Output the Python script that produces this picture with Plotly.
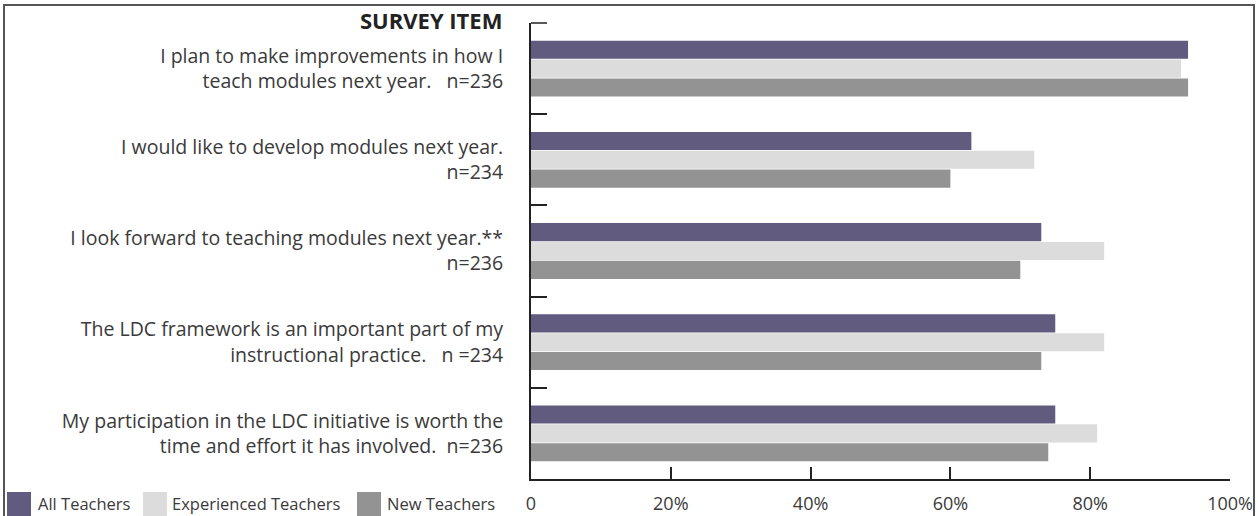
import plotly.graph_objects as go

categories = [
    "I plan to make improvements in how I<br>teach modules next year.   n=236",
    "I would like to develop modules next year.<br>n=234",
    "I look forward to teaching modules next year.**<br>n=236",
    "The LDC framework is an important part of my<br>instructional practice.   n =234",
    "My participation in the LDC initiative is worth the<br>time and effort it has involved.  n=236",
]
all_teachers = [94, 63, 73, 75, 75]
experienced_teachers = [93, 72, 82, 82, 81]
new_teachers = [94, 60, 70, 73, 74]
series_names = ["All Teachers", "Experienced Teachers", "New Teachers"]
series_colors = ["#615b80", "#dcdcdc", "#939393"]
x_tickvals = [0, 20, 40, 60, 80, 100]
x_ticktext = ["0", "20%", "40%", "60%", "80%", "100%"]

FONT = "Open Sans"
TXT = "#3a3a3a"

fig = go.Figure()
for name, vals, col in zip(series_names, [all_teachers, experienced_teachers, new_teachers], series_colors):
    fig.add_trace(go.Bar(
        y=categories, x=vals, name=name, orientation="h",
        marker=dict(color=col, line=dict(width=0)), showlegend=False,
    ))

W, H = 1258, 516
ml, mr, mt, mb = 531, 28, 23, 37
pw = W - ml - mr
ph = H - mt - mb

def px_x(p):
    return (p - ml) / pw

def px_y(p):
    return (H - mb - p) / ph

# custom legend (large square swatches like the reference)
legend_swatch_x = [7, 143, 357]
legend_text_x = [36, 170, 385]
shapes = [
    dict(
        type="rect", xref="paper", yref="paper",
        x0=px_x(4), x1=px_x(1254), y0=px_y(530), y1=px_y(5),
        line=dict(color="#555555", width=2), fillcolor="rgba(0,0,0,0)", layer="above",
    ),
    # top boundary tick of the category axis
    dict(
        type="line", xref="paper", yref="paper",
        x0=0, x1=px_x(547), y0=1, y1=1,
        line=dict(color="#222222", width=1.5), layer="above",
    ),
]
annotations = [dict(
    text="<b>SURVEY ITEM</b>", xref="paper", yref="paper",
    x=px_x(504), y=px_y(20), xanchor="right", yanchor="middle",
    showarrow=False, font=dict(family=FONT, size=22, color="#222222"),
)]
for name, col, sx, tx in zip(series_names, series_colors, legend_swatch_x, legend_text_x):
    shapes.append(dict(
        type="rect", xref="paper", yref="paper",
        x0=px_x(sx), x1=px_x(sx + 24), y0=px_y(525), y1=px_y(492),
        line=dict(width=0), fillcolor=col, layer="above",
    ))
    annotations.append(dict(
        text=name, xref="paper", yref="paper",
        x=px_x(tx), y=px_y(503), xanchor="left", yanchor="middle",
        showarrow=False, font=dict(family=FONT, size=16.5, color=TXT),
    ))

fig.update_layout(
    width=W, height=H,
    margin=dict(l=ml, r=mr, t=mt, b=mb, autoexpand=False),
    paper_bgcolor="white", plot_bgcolor="white",
    barmode="group", bargap=0.38, bargroupgap=0.04,
    font=dict(family=FONT, size=16, color=TXT),
    showlegend=False,
    annotations=annotations,
    shapes=shapes,
)

fig.update_xaxes(
    range=[0, 100], tickvals=x_tickvals, ticktext=x_ticktext,
    showgrid=False, zeroline=False, automargin=False,
    showline=True, linecolor="#222222", linewidth=2,
    ticks="inside", ticklen=12, tickwidth=1.5, tickcolor="#222222",
    ticklabelstandoff=7,
    tickfont=dict(family=FONT, size=18, color=TXT),
)
fig.update_yaxes(
    autorange="reversed", showgrid=False, zeroline=False, automargin=False,
    showline=True, linecolor="#222222", linewidth=2,
    ticks="inside", tickson="boundaries", ticklen=16, tickwidth=1.5, tickcolor="#222222",
    ticklabelstandoff=22,
    tickfont=dict(family=FONT, size=19.5, color=TXT),
)

fig.write_html(
    "out.html",
    config={"displayModeBar": False},
    post_script="document.body.style.margin='0';document.body.style.overflow='hidden';",
)
